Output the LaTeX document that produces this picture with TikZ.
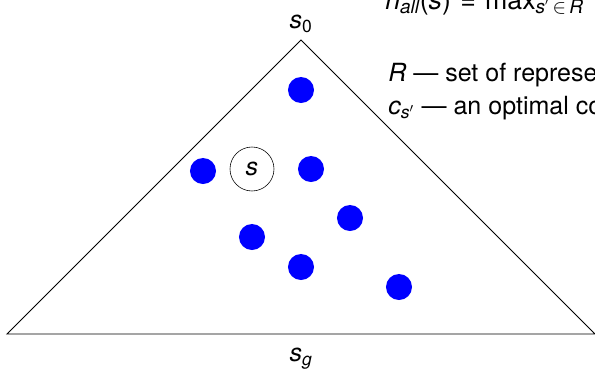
\documentclass[tikz,border=0pt]{standalone}
\usepackage{fontspec}
\setmainfont{TeX Gyre Heros}
\usetikzlibrary{positioning,calc}
\tikzset{
  repdot/.style ={circle, fill=blue, minimum size=0.65cm, inner sep=0pt},
  curstate/.style={circle, draw, thin, minimum size=1.1cm, inner sep=0pt},
  lbl/.style    ={font=\fontsize{17.8}{21}\selectfont, inner sep=0pt},
  legend/.style ={lbl, anchor=base west},
}
\newcommand{\sv}{\textit{s}}
\newcommand{\lowsub}[1]{\raisebox{-0.3ex}{\fontsize{13.5}{15}\selectfont #1}}

\begin{document}
\begin{tikzpicture}[x=0.025cm, y=-0.025cm]
  \useasboundingbox (0,0) rectangle (595,369);
  % triangle of states
  \coordinate (top) at (301,40);
  \coordinate (bl) at (7,334);
  \coordinate (br) at (595,334);
  \draw[line width=0.6pt, line join=miter] (bl) -- (top) -- (br) -- cycle;
  \node[lbl, above=5pt of top] (s0) {\sv\textsubscript{0}};
  \node[lbl, below=10pt of $(bl)!0.5!(br)$] (sg) {\sv\textsubscript{\textit{g}}};
  % representatives
  \node[repdot] (r1) at (301,90) {};
  \node[repdot] (r2) at (203,171) {};
  \node[repdot] (r3) at (311,169) {};
  \node[repdot] (r4) at (350,218) {};
  \node[repdot] (r5) at (252,237) {};
  \node[repdot] (r6) at (301,267) {};
  \node[repdot] (r7) at (399,287) {};
  \node[curstate, lbl] (s) at (252,169) {\sv};
  % legend
  \node[legend, font=\fontsize{19}{22}\selectfont] (hall) at (385,9)
    {\textit{h}\lowsub{\textit{all}}(\sv)\hspace{0.35em}=\hspace{0.35em}max\lowsub{\textit{s}$^{\prime}$\,$\in$\,\textit{R}}};
  \node[legend] (rset) at (388,81) {\textit{R} --- set of representatives};
  \node[legend] (cost) at (388,114)
    {\textit{c}\textsubscript{\textit{s}$^{\prime}$} --- an optimal cost};
\end{tikzpicture}
\end{document}
